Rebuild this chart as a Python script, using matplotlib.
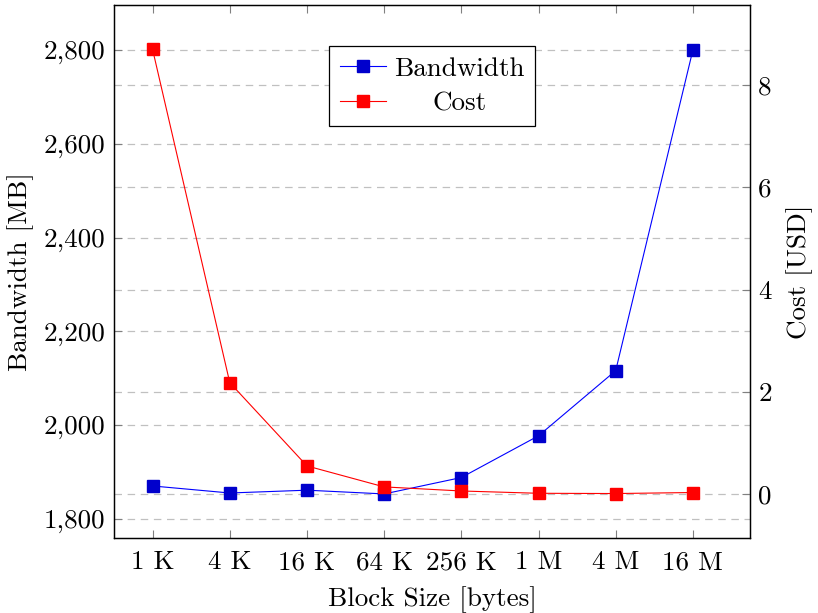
import matplotlib
matplotlib.use('Agg')
import matplotlib.pyplot as plt
from matplotlib.ticker import FuncFormatter

# values
block_sizes = ['1 K', '4 K', '16 K', '64 K', '256 K', '1 M', '4 M', '16 M']
bandwidth = [1870, 1855, 1861, 1853, 1888, 1977, 2116, 2800]
cost = [8.70, 2.18, 0.55, 0.14, 0.06, 0.015, 0.01, 0.03]

bw_ticks = [1800, 2000, 2200, 2400, 2600, 2800]
cost_ticks = [0, 2, 4, 6, 8]

plt.rcParams['font.family'] = ['cmr10', 'DejaVu Serif']
plt.rcParams['font.size'] = 19.5

fig = plt.figure(figsize=(8.18, 6.13), dpi=100)
ax1 = fig.add_axes([114 / 818, 75 / 613, 636 / 818, 533 / 613])
ax2 = ax1.twinx()

x = list(range(len(block_sizes)))

grid_kw = dict(color='#c0c0c0', lw=0.9, dashes=(6, 4.5), zorder=0.5)
for t in bw_ticks:
    ax1.axhline(t, **grid_kw)
for t in cost_ticks:
    ax1.plot([0, 1], [t, t], transform=ax2.get_yaxis_transform(), **grid_kw)

ax1.plot(x, bandwidth, color='blue', lw=0.8, marker='s', markersize=8.5,
         markerfacecolor='#0000cc', markeredgecolor='#0000cc', label='Bandwidth', zorder=3)
ax2.plot(x, cost, color='red', lw=0.8, marker='s', markersize=8.5,
         markerfacecolor='red', markeredgecolor='red', label='Cost', zorder=3)

ax1.set_xlim(-0.5, 7.74)
ax1.set_ylim(1759, 2896)
ax2.set_ylim(-0.86, 9.57)

ax1.set_xticks(x)
ax1.set_xticklabels(block_sizes)
ax1.set_yticks(bw_ticks)
ax1.yaxis.set_major_formatter(FuncFormatter(lambda v, p: '{:,.0f}'.format(v)))
ax2.set_yticks(cost_ticks)

ax1.tick_params(axis='x', direction='in', length=6, width=0.8, color='#808080',
                top=True, pad=9)
ax1.tick_params(axis='y', direction='in', length=6, width=0.8, color='#808080', pad=6)
ax2.tick_params(axis='y', direction='in', length=6, width=0.8, color='#808080', pad=6)

for sp in ax1.spines.values():
    sp.set_linewidth(0.9)
for sp in ax2.spines.values():
    sp.set_linewidth(0.9)

ax1.set_xlabel('Block Size [bytes]', labelpad=9)
ax1.set_ylabel('Bandwidth [MB]', labelpad=7)
ax2.set_ylabel('Cost [USD]', labelpad=10)

h1, l1 = ax1.get_legend_handles_labels()
h2, l2 = ax2.get_legend_handles_labels()
leg = ax2.legend(h1 + h2, l1 + l2, loc='upper center', bbox_to_anchor=(0.5, 1 - 41 / 533),
                 fancybox=False, shadow=False, framealpha=1, edgecolor='black',
                 handlelength=1.7, handletextpad=0.3, labelspacing=0.38, borderpad=0.4,
                 borderaxespad=0)
leg.get_frame().set_linewidth(0.9)

# centre the shorter legend entry like the original
fig.canvas.draw()
texts = leg.get_texts()
r = fig.canvas.get_renderer()
w0 = texts[0].get_window_extent(r).width
w1 = texts[1].get_window_extent(r).width
texts[1].set_x((w0 - w1) / 2)

fig.savefig('out.png', dpi=100)
